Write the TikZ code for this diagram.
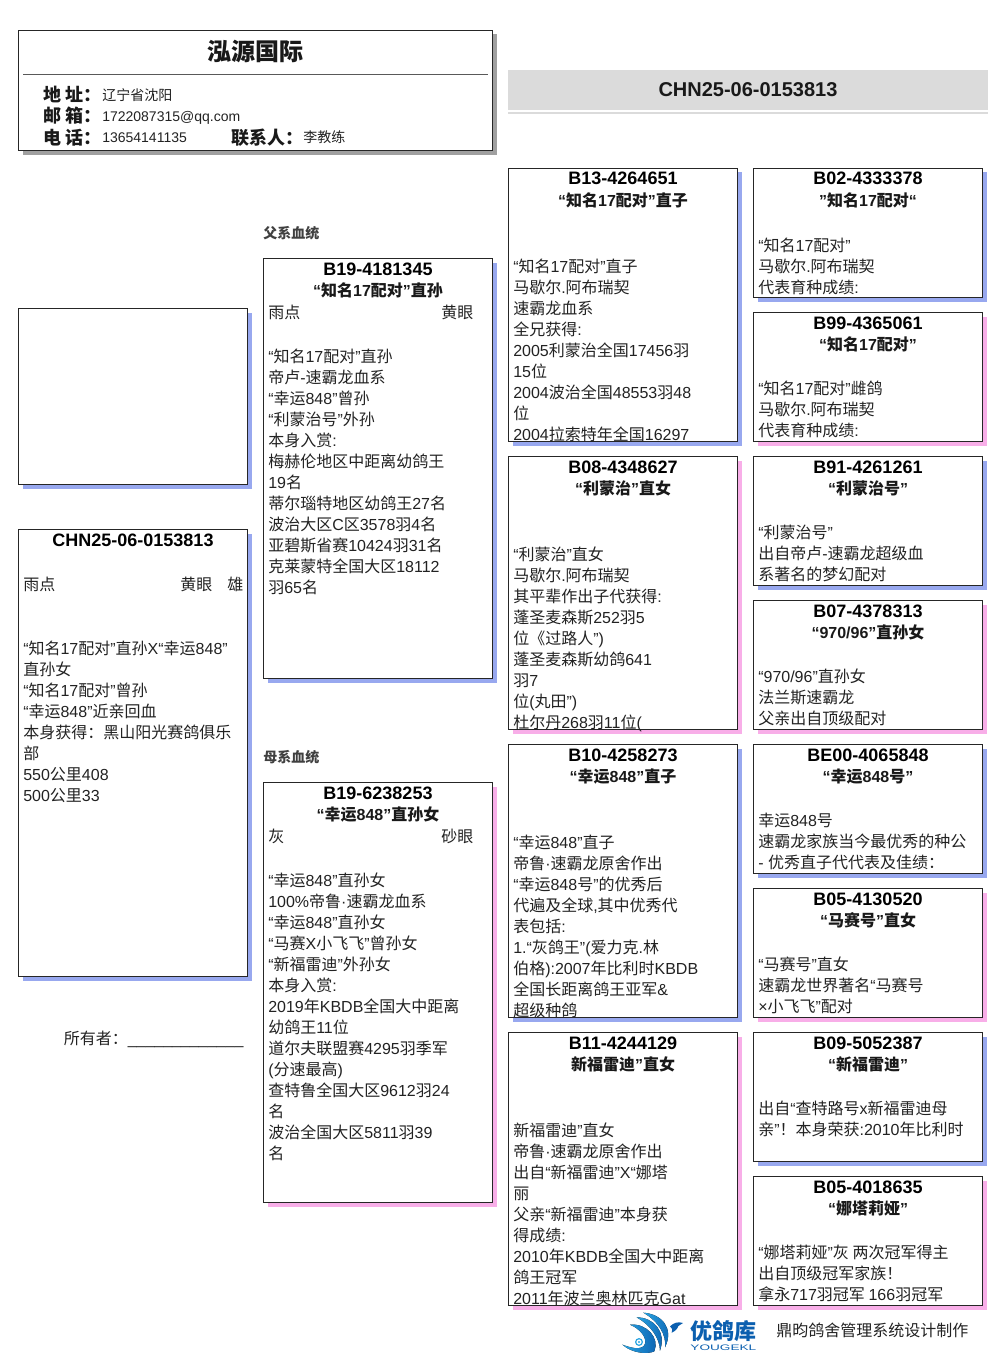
\documentclass[tikz,border=0pt]{standalone}
\usepackage{fontspec}
\usetikzlibrary{calc}
\setmainfont{Liberation Sans}
\newfontfamily\cjk{Noto Sans CJK SC}
\XeTeXinterchartokenstate=1
\newXeTeXintercharclass\cjkcl
\makeatletter
\count@="4E00 \loop\ifnum\count@<"A000 \XeTeXcharclass\count@=\cjkcl \advance\count@ by 1 \repeat
\count@="3000 \loop\ifnum\count@<"3040 \XeTeXcharclass\count@=\cjkcl \advance\count@ by 1 \repeat
\count@="FF00 \loop\ifnum\count@<"FFF0 \XeTeXcharclass\count@=\cjkcl \advance\count@ by 1 \repeat
\makeatother
\XeTeXinterchartoks 0 \cjkcl = {\cjk}
\XeTeXinterchartoks 4095 \cjkcl = {\cjk}
\XeTeXinterchartoks \cjkcl 0 = {\rmfamily}
\XeTeXinterchartoks 4095 0 = {\rmfamily}
\definecolor{shblue}{HTML}{98A8EF}
\definecolor{shpink}{HTML}{F8AEE8}
\definecolor{shgrey}{HTML}{A0A0A0}
\definecolor{txt}{HTML}{222222}
\definecolor{logoa}{HTML}{2AA5E2}
\definecolor{logob}{HTML}{0B5FAF}
\tikzset{
  card/.style={draw=black!85,line width=0.75pt,fill=white,inner sep=0pt,outer sep=0pt,anchor=north west},
  cardshadow/.style={inner sep=0pt,outer sep=0pt,anchor=north west},
  idtext/.style={inner sep=0pt,anchor=base,text=black,font=\fontsize{13.5}{16}\selectfont\bfseries},
  titletext/.style={inner sep=0pt,anchor=base,text=black!90,font=\fontsize{12}{16}\selectfont\bfseries},
  bodytext/.style={inner sep=0pt,anchor=north west,align=left,text=txt,font=\fontsize{12}{15.75}\selectfont},
  small/.style={inner sep=0pt,anchor=base west,text=txt,font=\fontsize{10.5}{13}\selectfont},
  lab/.style={inner sep=0pt,anchor=base west,text=black!90,font=\fontsize{13.5}{16}\selectfont\bfseries},
  sect/.style={inner sep=0pt,anchor=base west,text=black!75,font=\fontsize{10.5}{13}\selectfont\bfseries},
}
% name x y w h shadow colour
\newcommand{\card}[6]{%
  \node[cardshadow,fill=#6,minimum width=#4*0.75pt,minimum height=#5*0.75pt] (#1-s) at (#2+4,#3+4) {};
  \node[card,minimum width=#4*0.75pt,minimum height=#5*0.75pt] (#1) at (#2,#3) {};}
% name id title
\newcommand{\cardhead}[3]{%
  \node[idtext] (#1-id) at ($(#1.north)+(0,16.5)$) {#2};
  \node[titletext] (#1-t) at ($(#1.north)+(0,37.5)$) {#3};}
% name centre-of-first-line lines
\newcommand{\cardbody}[3]{%
  \node[bodytext] (#1-b) at ($(#1.north west)+(4.5,#2-8.7)$) {\strut #3};}
\begin{document}
\begin{tikzpicture}[x=0.75pt,y=-0.75pt]
\useasboundingbox (0,0) rectangle (1006,1366);
% letterhead
\card{head}{18.5}{30.5}{474}{120.5}{shgrey}
\coordinate (rl) at (23,74.5);
\coordinate (rr) at (487.5,74.5);
\draw[black!65,line width=0.75pt] (rl) -- (rr);
\node[inner sep=0pt,anchor=base,text=black!90,font=\fontsize{18}{22}\selectfont\bfseries] (hname) at (255.5,61) {泓源国际};
\node[lab] (l1) at (43,102) {地 址：};
\node[lab] (l2) at (43,123) {邮 箱：};
\node[lab] (l3) at (43,144.5) {电 话：};
\node[small] (v1) at (102,101) {辽宁省沈阳};
\node[small] (v2) at (102,122) {1722087315@qq.com};
\node[small] (v3) at (102,143) {13654141135};
\node[lab] (l4) at (231,144.5) {联系人：};
\node[small] (v4) at (303,143) {李教练};
% ring banner
\node[cardshadow,fill=black!14,minimum width=480*0.75pt,minimum height=40*0.75pt] (ban) at (508,70) {};
\node[cardshadow,fill=black!14,minimum width=480*0.75pt,minimum height=2*0.75pt] (banl) at (508,112) {};
\node[inner sep=0pt,anchor=base,text=black!90,font=\fontsize{15}{18}\selectfont\bfseries] (bant) at (748,97) {CHN25-06-0153813};
% photo and subject
\card{photo}{18.5}{308.5}{229}{176}{shblue}
\card{main}{18.5}{529.5}{229}{447}{shblue}
\node[idtext] (main-id) at ($(main.north)+(0,16.5)$) {CHN25-06-0153813};
\node[bodytext] (main-c) at (23,575.3) {\strut 雨点};
\node[bodytext] (main-e) at (180,575.3) {\strut 黄眼};
\node[bodytext] (main-g) at (227,575.3) {\strut 雄};
\cardbody{main}{119}{“知名17配对”直孙X“幸运848”\\直孙女\\“知名17配对”曾孙\\“幸运848”近亲回血\\本身获得：黑山阳光赛鸽俱乐\\部\\550公里408\\500公里33}
\node[bodytext] (owner) at (63.5,1029.3) {\strut 所有者：\_\_\_\_\_\_\_\_\_\_\_\_\_};
% parents
\node[sect] (fa) at (263,238) {父系血统};
\card{sire}{263.5}{258.5}{229}{420}{shblue}
\cardhead{sire}{B19-4181345}{“知名17配对”直孙}
\node[bodytext] (sire-c) at (268,303.3) {\strut 雨点};
\node[bodytext] (sire-e) at (441,303.3) {\strut 黄眼};
\cardbody{sire}{98}{“知名17配对”直孙\\帝卢-速霸龙血系\\“幸运848”曾孙\\“利蒙治号”外孙\\本身入赏:\\梅赫伦地区中距离幼鸽王\\19名\\蒂尔瑙特地区幼鸽王27名\\波治大区C区3578羽4名\\亚碧斯省赛10424羽31名\\克莱蒙特全国大区18112\\羽65名}
\node[sect] (mo) at (263,762) {母系血统};
\card{dam}{263.5}{782.5}{229}{420}{shpink}
\cardhead{dam}{B19-6238253}{“幸运848”直孙女}
\node[bodytext] (dam-c) at (268,827.3) {\strut 灰};
\node[bodytext] (dam-e) at (441,827.3) {\strut 砂眼};
\cardbody{dam}{98}{“幸运848”直孙女\\100\%帝鲁·速霸龙血系\\“幸运848”直孙女\\“马赛X小飞飞”曾孙女\\“新福雷迪”外孙女\\本身入赏:\\2019年KBDB全国大中距离\\幼鸽王11位\\道尔夫联盟赛4295羽季军\\(分速最高)\\查特鲁全国大区9612羽24\\名\\波治全国大区5811羽39\\名}
% grandparents
\card{gp1}{508.5}{168.5}{229}{273}{shblue}
\cardhead{gp1}{B13-4264651}{“知名17配对”直子}
\cardbody{gp1}{98}{“知名17配对”直子\\马歇尔.阿布瑞契\\速霸龙血系\\全兄获得:\\2005利蒙治全国17456羽\\15位\\2004波治全国48553羽48\\位\\2004拉索特年全国16297}
\card{gp2}{508.5}{456.5}{229}{273}{shpink}
\cardhead{gp2}{B08-4348627}{“利蒙治”直女}
\cardbody{gp2}{98}{“利蒙治”直女\\马歇尔.阿布瑞契\\其平辈作出子代获得:\\蓬圣麦森斯252羽5\\位《过路人”)\\蓬圣麦森斯幼鸽641\\羽7\\位(丸田”)\\杜尔丹268羽11位(}
\card{gp3}{508.5}{744.5}{229}{273}{shblue}
\cardhead{gp3}{B10-4258273}{“幸运848”直子}
\cardbody{gp3}{98}{“幸运848”直子\\帝鲁·速霸龙原舍作出\\“幸运848号”的优秀后\\代遍及全球,其中优秀代\\表包括:\\1.“灰鸽王”(爱力克.林\\伯格):2007年比利时KBDB\\全国长距离鸽王亚军\&\\超级种鸽}
\card{gp4}{508.5}{1032.5}{229}{273}{shpink}
\cardhead{gp4}{B11-4244129}{新福雷迪”直女}
\cardbody{gp4}{98}{新福雷迪”直女\\帝鲁·速霸龙原舍作出\\出自“新福雷迪”X“娜塔\\丽\\父亲“新福雷迪”本身获\\得成绩:\\2010年KBDB全国大中距离\\鸽王冠军\\2011年波兰奥林匹克Gat}
% great-grandparents
\card{g1}{753.5}{168.5}{229}{129}{shblue}
\cardhead{g1}{B02-4333378}{”知名17配对“}
\cardbody{g1}{77}{“知名17配对”\\马歇尔.阿布瑞契\\代表育种成绩:}
\card{g2}{753.5}{312.5}{229}{129}{shpink}
\cardhead{g2}{B99-4365061}{“知名17配对”}
\cardbody{g2}{76}{“知名17配对”雌鸽\\马歇尔.阿布瑞契\\代表育种成绩:}
\card{g3}{753.5}{456.5}{229}{129}{shblue}
\cardhead{g3}{B91-4261261}{“利蒙治号”}
\cardbody{g3}{76}{“利蒙治号”\\出自帝卢-速霸龙超级血\\系著名的梦幻配对}
\card{g4}{753.5}{600.5}{229}{129}{shpink}
\cardhead{g4}{B07-4378313}{“970/96”直孙女}
\cardbody{g4}{76}{“970/96”直孙女\\法兰斯速霸龙\\父亲出自顶级配对}
\card{g5}{753.5}{744.5}{229}{129}{shblue}
\cardhead{g5}{BE00-4065848}{“幸运848号”}
\cardbody{g5}{76}{幸运848号\\速霸龙家族当今最优秀的种公\\- 优秀直子代代表及佳绩：}
\card{g6}{753.5}{888.5}{229}{129}{shpink}
\cardhead{g6}{B05-4130520}{“马赛号”直女}
\cardbody{g6}{76}{“马赛号”直女\\速霸龙世界著名“马赛号\\×小飞飞”配对}
\card{g7}{753.5}{1032.5}{229}{129}{shblue}
\cardhead{g7}{B09-5052387}{“新福雷迪”}
\cardbody{g7}{76}{出自“查特路号x新福雷迪母\\亲”！本身荣获:2010年比利时}
\card{g8}{753.5}{1176.5}{229}{129}{shpink}
\cardhead{g8}{B05-4018635}{“娜塔莉娅”}
\cardbody{g8}{76}{“娜塔莉娅”灰 两次冠军得主\\出自顶级冠军家族！\\拿永717羽冠军 166羽冠军}
% logo
\begin{scope}[shift={(615,1308)},x=0.25pt,y=-0.25pt]
\fill[left color=logoa,right color=logob] (85,14) .. controls (140,18) and (178,60) .. (150,118) .. controls (155,80) and (130,40) .. (85,14) -- cycle;
\fill[left color=logoa,right color=logob] (65,28) .. controls (115,28) and (155,70) .. (135,128) .. controls (135,90) and (105,50) .. (65,28) -- cycle;
\fill[left color=logoa,right color=logob] (45,50) .. controls (95,45) and (135,90) .. (118,130) .. controls (95,140) and (50,135) .. (22,110) .. controls (45,118) and (75,128) .. (88,112) .. controls (100,92) and (75,62) .. (45,50) -- cycle;
\fill[white] (72,102) circle (14);
\draw[logoa,line width=0.9pt] (72,102) circle (10);
\fill[logoa] (72,102) circle (3.5);
\fill[logob] (165,55) .. controls (176,44) and (190,40) .. (204,45) -- (190,54) .. controls (188,62) and (180,70) .. (170,74) .. controls (174,66) and (172,60) .. (165,55) -- cycle;
\end{scope}
\node[inner sep=0pt,anchor=base west,text=logob,font=\fontsize{16.5}{20}\selectfont\bfseries] (lgt) at (690,1339) {优鸽库};
\node[inner sep=0pt,anchor=base west,text=logob,font=\fontsize{6}{8}\selectfont,xscale=1.7] (lgy) at (690,1350.5) {YOUGEKL};
\node[bodytext] (made) at (776,1322) {\strut 鼎昀鸽舍管理系统设计制作};
\end{tikzpicture}
\end{document}
